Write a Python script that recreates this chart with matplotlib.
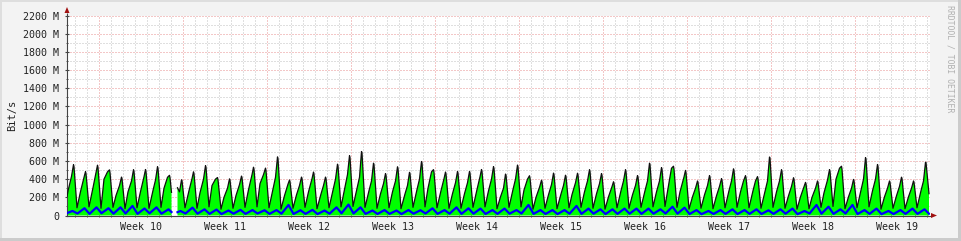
import matplotlib
matplotlib.use('Agg')
import matplotlib.pyplot as plt
from matplotlib.patches import Rectangle, Polygon
import numpy as np

# days counted from monday of week 10, index runs -3 .. 68
first_day = -3
weeks = [10, 11, 12, 13, 14, 15, 16, 17, 18, 19]

# evening peak (M bit/s) per day
peaks = [575, 493, 567, 505, 434, 519, 519, 555, 445, 409, 493, 567,
         420, 416, 445, 545, 530, 673, 398, 434, 490, 434, 585, 684,
         739, 600, 475, 555, 493, 618, 508, 490, 500, 500, 519, 555,
         475, 574, 442, 398, 482, 457, 478, 519, 475, 380, 519, 453,
         600, 545, 545, 508, 390, 453, 416, 530, 445, 434, 676, 519,
         427, 372, 390, 519, 545, 409, 666, 581, 390, 434, 390, 611]
# late afternoon level
shoulders = [430, 400, 445, 480, 330, 380, 400, 390, 420, 260, 380, 400,
             400, 300, 340, 420, 450, 420, 330, 330, 380, 330, 400, 450,
             420, 380, 350, 380, 330, 400, 480, 380, 360, 360, 400, 400,
             300, 400, 400, 310, 340, 330, 360, 380, 350, 300, 380, 330,
             380, 380, 520, 400, 300, 330, 320, 380, 380, 380, 380, 380,
             320, 300, 300, 390, 520, 300, 400, 400, 300, 320, 300, 380]
# morning / midday level
middays = [270, 240, 250, 400, 220, 260, 240, 230, 300, 340, 230, 250,
           330, 200, 220, 260, 350, 240, 200, 210, 240, 200, 230, 260,
           250, 230, 220, 240, 200, 240, 300, 230, 220, 220, 240, 250,
           190, 240, 280, 200, 210, 200, 230, 240, 220, 190, 230, 210,
           230, 240, 300, 260, 190, 210, 200, 230, 240, 230, 220, 240,
           200, 190, 200, 250, 400, 190, 230, 250, 190, 200, 190, 230]
# night low, last value is where the data stops
troughs = [80, 85, 95, 80, 90, 75, 85, 80, 90, 90, 85, 80,
           95, 70, 80, 90, 95, 85, 70, 80, 90, 75, 85, 95,
           100, 90, 80, 85, 75, 90, 95, 85, 80, 80, 90, 95,
           75, 90, 95, 70, 80, 75, 85, 90, 80, 70, 85, 80,
           90, 95, 100, 90, 70, 80, 75, 85, 90, 85, 80, 90,
           80, 70, 75, 90, 100, 75, 85, 95, 70, 80, 75, 85, 240]

# blue line: evening high and night low
blue_high = [50, 80, 90, 80, 90, 105, 77, 90, 68, 50, 87, 68,
             65, 55, 62, 60, 58, 60, 116, 58, 62, 55, 90, 120,
             90, 55, 60, 55, 60, 58, 79, 60, 90, 79, 76, 60,
             76, 60, 116, 60, 60, 60, 105, 76, 68, 68, 76, 76,
             76, 68, 97, 86, 60, 50, 60, 68, 60, 68, 57, 68,
             76, 50, 116, 97, 68, 116, 60, 76, 50, 60, 76, 68]
blue_low = [20, 22, 18, 25, 20, 22, 18, 24, 20, 18, 22, 20,
            18, 16, 20, 18, 22, 18, 20, 17, 18, 16, 20, 24,
            22, 18, 17, 18, 16, 20, 22, 18, 20, 18, 20, 17,
            18, 20, 22, 18, 17, 16, 20, 18, 20, 16, 18, 20,
            18, 20, 22, 20, 16, 15, 17, 18, 16, 18, 17, 18,
            20, 15, 22, 20, 18, 22, 16, 18, 15, 16, 18, 18, 20]

# gap in the data (days)
gap_from = 6.08
gap_to = 6.5


def build():
    t = []
    v = []
    tb = []
    vb = []
    for i in range(len(peaks)):
        d = first_day + i
        t += [d + 4 / 24, d + 10 / 24, d + 17 / 24, d + 21.5 / 24]
        v += [troughs[i], middays[i], shoulders[i], peaks[i]]
        tb += [d + 5 / 24, d + 19 / 24]
        vb += [blue_low[i], blue_high[i]]
    d = first_day + len(peaks)
    t.append(d + 4 / 24)
    v.append(troughs[-1])
    tb.append(d + 4 / 24)
    vb.append(blue_low[-1])
    # fine time grid so the gap can be cut out
    x = np.arange(-3.0, t[-1], 1 / 24)
    y = np.interp(x, t, v)
    yb = np.interp(x, tb, vb)
    gap = (x > gap_from) & (x < gap_to)
    y[gap] = np.nan
    yb[gap] = np.nan
    return x, y, yb


def px(xp, yp):
    # figure pixel -> figure fraction (y measured from top)
    return (xp / 961, 1 - yp / 241)


def grafiek(x, y, yb):
    fig = plt.figure(figsize=(9.61, 2.41), dpi=100, facecolor='#f3f3f3')
    # 3d frame around the canvas
    fig.patches.append(Rectangle((0, 1 - 2 / 241), 1, 2 / 241, transform=fig.transFigure,
                                 facecolor='#dedede', edgecolor='none'))
    fig.patches.append(Rectangle((0, 0), 2 / 961, 1, transform=fig.transFigure,
                                 facecolor='#dedede', edgecolor='none'))
    fig.patches.append(Rectangle((1 - 3 / 961, 0), 3 / 961, 1, transform=fig.transFigure,
                                 facecolor='#cbcbcb', edgecolor='none'))
    fig.patches.append(Rectangle((0, 0), 1, 3 / 241, transform=fig.transFigure,
                                 facecolor='#cbcbcb', edgecolor='none'))

    ax = fig.add_axes([67 / 961, 25.5 / 241, 862.5 / 961, 200 / 241])
    ax.set_facecolor('white')

    xmin = (67 - 99) / 12
    xmax = (929.5 - 99) / 12
    ax.set_xlim(xmin, xmax)
    ax.set_ylim(0, 2200)

    # grid
    dots = (0, (1, 2))
    for d in range(-2, 70):
        if d % 7 != 0:
            ax.axvline(d, color='#c0c0c0', lw=0.72, ls=dots, zorder=0)
    for val in range(100, 2300, 200):
        ax.axhline(val, color='#c0c0c0', lw=0.72, ls=dots, zorder=0)
    for w in range(0, 70, 7):
        ax.axvline(w, color='#e89090', lw=0.72, ls=dots, zorder=0.5)
    for val in range(200, 2300, 200):
        ax.axhline(val, color='#e89090', lw=0.72, ls=dots, zorder=0.5)

    ax.fill_between(x, 0, y, color='#00ff00', lw=0, zorder=2)
    ax.plot(x, y, color='#111111', lw=0.9, zorder=3)
    ax.plot(x, yb, color='#0000ff', lw=1.6, zorder=4)

    for s in ['top', 'right']:
        ax.spines[s].set_visible(False)
    ax.spines['left'].set_color('#444444')
    ax.spines['bottom'].set_color('#444444')
    ax.spines['left'].set_linewidth(0.8)
    ax.spines['bottom'].set_linewidth(0.8)
    ax.spines['left'].set_bounds(0, 2200)

    # arrows at the axis ends
    fig.add_artist(Polygon([px(64.5, 13), px(69.5, 13), px(67, 7)], closed=True,
                           transform=fig.transFigure, facecolor='#a01010',
                           edgecolor='none'))
    fig.add_artist(Polygon([px(67, 13), px(67, 15.5)], closed=False,
                           transform=fig.transFigure, edgecolor='#444444',
                           lw=0.8, fill=False))
    fig.add_artist(Polygon([px(931, 213), px(931, 218), px(937, 215.5)], closed=True,
                           transform=fig.transFigure, facecolor='#a01010',
                           edgecolor='none'))

    yt = list(range(0, 2300, 200))
    ax.set_yticks(yt)
    ax.set_yticklabels(['0'] + ['%d M' % v for v in yt[1:]])
    ax.set_yticks(range(100, 2300, 200), minor=True)
    ax.set_xticks([w * 7 + 3.5 for w in range(len(weeks))])
    ax.set_xticklabels(['Week %d' % w for w in weeks])
    ax.set_xticks(range(-2, 70), minor=True)
    ax.tick_params(axis='x', which='major', length=0, pad=5)
    ax.tick_params(axis='x', which='minor', length=2, direction='inout', color='#444444')
    ax.tick_params(axis='y', which='major', length=3, direction='inout', color='#444444', pad=4)
    ax.tick_params(axis='y', which='minor', length=2, direction='inout', color='#444444')
    for lab in ax.get_xticklabels() + ax.get_yticklabels():
        lab.set_family('DejaVu Sans Mono')
        lab.set_fontsize(7.2)
        lab.set_color('#222222')

    fig.text(12 / 961, 1 - 115 / 241, 'Bit/s', rotation=90, ha='center', va='center',
             family='DejaVu Sans Mono', fontsize=7.5, color='#222222')
    fig.text(950 / 961, 1 - 5 / 241, 'RRDTOOL / TOBI OETIKER', rotation=270,
             ha='center', va='top', family='DejaVu Sans Mono', fontsize=5.9,
             color='#b0b0b0')

    fig.savefig('out.png', dpi=100, facecolor=fig.get_facecolor())


x, y, yb = build()
grafiek(x, y, yb)
